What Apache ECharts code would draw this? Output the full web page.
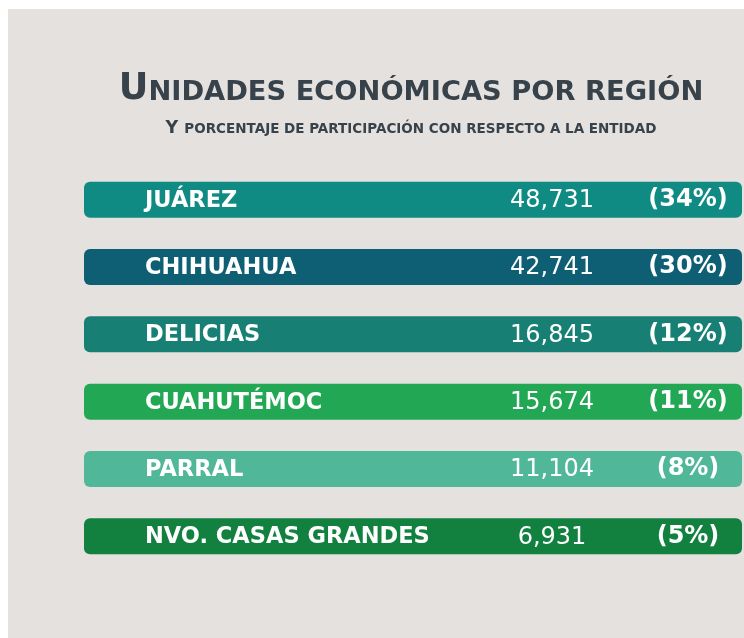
<!DOCTYPE html>
<html>
<head>
<meta charset="utf-8">
<script src="https://cdn.jsdelivr.net/npm/echarts@6/dist/echarts.min.js"></script>
<style>
  html, body { margin: 0; padding: 0; background: #ffffff; }
  #chart { width: 744px; height: 638px; }
</style>
</head>
<body>
<div id="chart"></div>
<script>
// datos
const regiones = ['JUÁREZ', 'CHIHUAHUA', 'DELICIAS', 'CUAHUTÉMOC', 'PARRAL', 'NVO. CASAS GRANDES'];
const unidades = [48731, 42741, 16845, 15674, 11104, 6931];
const porcentajes = [34, 30, 12, 11, 8, 5];
const colores = ['#0f8b84', '#0e5e74', '#187f74', '#22a855', '#50b898', '#12803f'];

const myChart = echarts.init(document.getElementById('chart'));

function fmt(n) {
  return n.toLocaleString('en-US');
}

const fuente = '"DejaVu Sans"';

const option = {
  backgroundColor: '#ffffff',
  animation: false,
  graphic: [
    {
      type: 'rect',
      z: -10,
      shape: { x: 8, y: 9, width: 736, height: 629 },
      style: { fill: '#e5e1de' }
    },
    {
      type: 'text',
      x: 411,
      y: 108,
      style: {
        text: '{a|U}{b|NIDADES ECONÓMICAS POR REGIÓN}',
        align: 'center',
        verticalAlign: 'bottom',
        rich: {
          a: { fontSize: 36.5, fontWeight: 'bold', fontFamily: fuente, fill: '#37424b', verticalAlign: 'bottom', lineHeight: 40 },
          b: { fontSize: 27.3, fontWeight: 'bold', fontFamily: fuente, fill: '#37424b', verticalAlign: 'bottom', lineHeight: 40, padding: [0, 0, 2, 0] }
        }
      }
    },
    {
      type: 'text',
      x: 411,
      y: 137,
      style: {
        text: '{a|Y }{b|PORCENTAJE DE PARTICIPACIÓN CON RESPECTO A LA ENTIDAD}',
        align: 'center',
        verticalAlign: 'bottom',
        rich: {
          a: { fontSize: 17.5, fontWeight: 'bold', fontFamily: fuente, fill: '#37424b', verticalAlign: 'bottom', lineHeight: 20 },
          b: { fontSize: 13.5, fontWeight: 'bold', fontFamily: fuente, fill: '#37424b', verticalAlign: 'bottom', lineHeight: 20, padding: [0, 0, 1, 0] }
        }
      }
    }
  ],
  grid: { left: 84, right: 2, top: 166, bottom: 68 },
  xAxis: { type: 'value', min: 0, max: 1, show: false },
  yAxis: { type: 'category', data: regiones, inverse: true, show: false },
  series: [{
    type: 'custom',
    encode: { y: 0 },
    data: regiones.map((r, i) => [i, unidades[i], porcentajes[i]]),
    renderItem: function (params, api) {
      const i = api.value(0);
      const cs = params.coordSys;
      const cy = api.coord([0, i])[1];
      const h = 36;
      return {
        type: 'group',
        children: [
          {
            type: 'rect',
            shape: { x: cs.x, y: cy - h / 2, width: cs.width, height: h, r: 6 },
            style: { fill: colores[i] }
          },
          {
            type: 'text',
            x: cs.x + 61,
            y: cy + 1,
            style: {
              text: regiones[i],
              fill: '#ffffff',
              font: 'bold 22.5px ' + fuente,
              align: 'left',
              verticalAlign: 'middle'
            }
          },
          {
            type: 'text',
            x: cs.x + 468,
            y: cy + 1,
            style: {
              text: fmt(api.value(1)),
              fill: '#ffffff',
              font: 'normal 24px ' + fuente,
              align: 'center',
              verticalAlign: 'middle'
            }
          },
          {
            type: 'text',
            x: cs.x + 604,
            y: cy,
            style: {
              text: '(' + api.value(2) + '%)',
              fill: '#ffffff',
              font: 'bold 24px ' + fuente,
              align: 'center',
              verticalAlign: 'middle'
            }
          }
        ]
      };
    }
  }]
};

myChart.setOption(option);
</script>
</body>
</html>
